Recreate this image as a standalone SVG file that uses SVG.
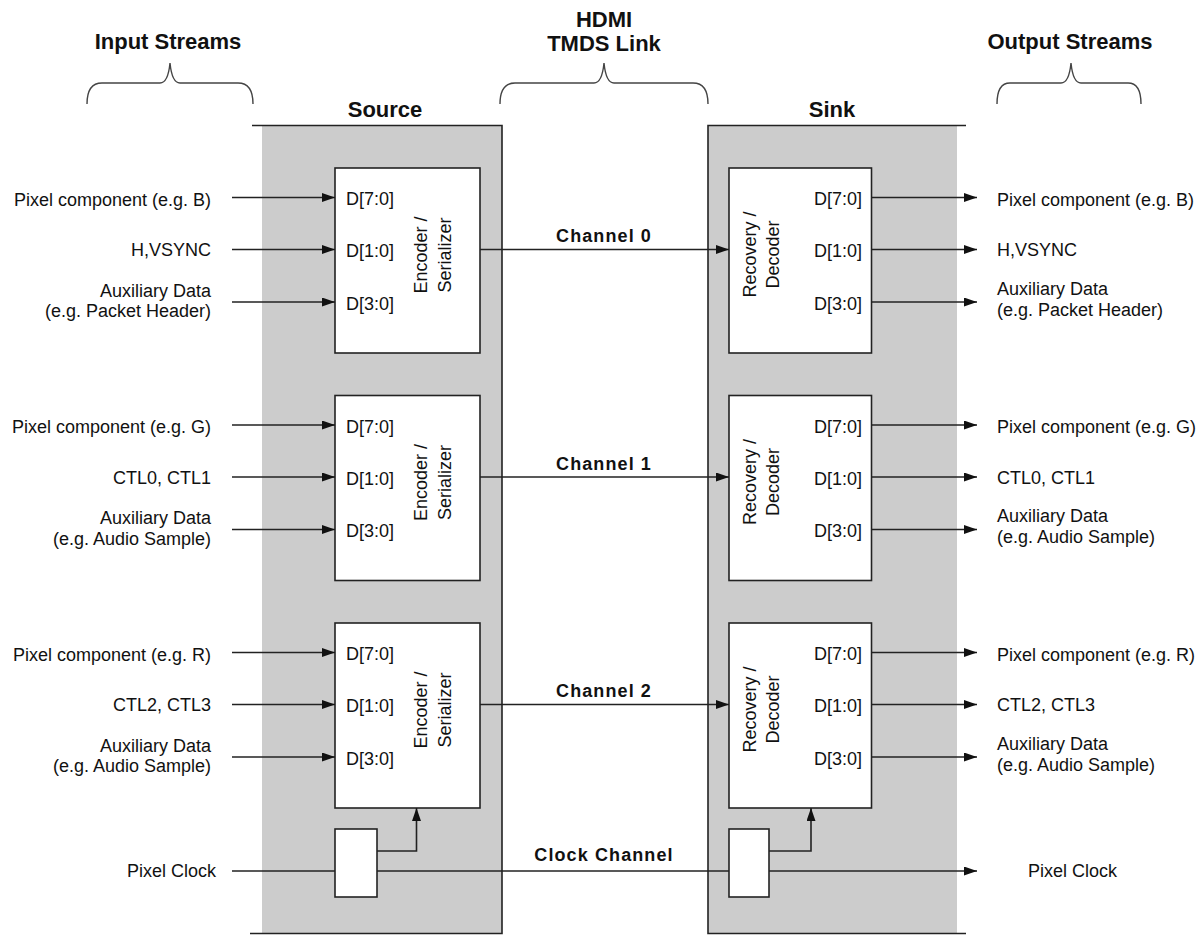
<svg xmlns="http://www.w3.org/2000/svg" width="1199" height="935" viewBox="0 0 1199 935">
<style>
text{font-family:"Liberation Sans",Arial,sans-serif;fill:#111}
.t{font-size:22px;font-weight:bold}
.c{font-size:18px;font-weight:bold;letter-spacing:1.1px;text-anchor:middle}
.l{font-size:18px}
.r{text-anchor:end}
.m{text-anchor:middle}
.box{fill:#fff;stroke:#222;stroke-width:1.6}
.ln{fill:none;stroke:#222;stroke-width:1.6}
.br{fill:none;stroke:#444;stroke-width:1.4}
.panel{fill:#cccccc}
</style>
<defs>
<marker id="ah" markerWidth="13" markerHeight="9" refX="13" refY="4.5" orient="auto" markerUnits="userSpaceOnUse">
<path d="M0,0 L13,4.5 L0,9 z" fill="#111"/>
</marker>
</defs>
<rect width="1199" height="935" fill="#fff"/>

<g id="headers">
<text class="t m" x="168" y="49">Input Streams</text>
<path class="br" d="M87,104 Q87,83 102,83 L160,83 Q168,83 170,63 Q172,83 180,83 L238,83 Q253,83 253,104"/>
<text class="t m" x="604" y="27">HDMI</text>
<text class="t m" x="604" y="51">TMDS Link</text>
<path class="br" d="M500,104 Q500,83 515,83 L594,83 Q602,83 604,63 Q606,83 614,83 L693,83 Q708,83 708,104"/>
<text class="t m" x="1070" y="49">Output Streams</text>
<path class="br" d="M997,104 Q997,83 1010,83 L1061,83 Q1069,83 1071,63 Q1073,83 1081,83 L1128,83 Q1141,83 1141,104"/>
</g>

<g id="source">
<rect class="panel" x="262" y="125.5" width="240" height="808"/>
<path class="ln" d="M252,125.5 H502 V933.5 H250"/>
<text class="t m" x="385" y="117">Source</text>
</g>

<g id="sink">
<rect class="panel" x="708" y="125.5" width="249" height="808"/>
<path class="ln" d="M966,125.5 H708 V933.5 H966"/>
<text class="t m" x="832" y="117">Sink</text>
</g>

<g id="enc0">
<rect class="box" x="335" y="168" width="145" height="185"/>
<text class="l" x="346" y="205">D[7:0]</text>
<text class="l" x="346" y="257">D[1:0]</text>
<text class="l" x="346" y="309.5">D[3:0]</text>
<text class="l m" transform="translate(427,255) rotate(-90)">Encoder /<tspan x="0" y="23.5">Serializer</tspan></text>
</g>
<g id="enc1">
<rect class="box" x="335" y="395.5" width="145" height="185"/>
<text class="l" x="346" y="432.5">D[7:0]</text>
<text class="l" x="346" y="484.5">D[1:0]</text>
<text class="l" x="346" y="537">D[3:0]</text>
<text class="l m" transform="translate(427,482.5) rotate(-90)">Encoder /<tspan x="0" y="23.5">Serializer</tspan></text>
</g>
<g id="enc2">
<rect class="box" x="335" y="623" width="145" height="185"/>
<text class="l" x="346" y="660">D[7:0]</text>
<text class="l" x="346" y="712">D[1:0]</text>
<text class="l" x="346" y="764.5">D[3:0]</text>
<text class="l m" transform="translate(427,710) rotate(-90)">Encoder /<tspan x="0" y="23.5">Serializer</tspan></text>
</g>

<g id="dec0">
<rect class="box" x="729" y="168" width="142.5" height="185"/>
<text class="l r" x="862" y="205">D[7:0]</text>
<text class="l r" x="862" y="257">D[1:0]</text>
<text class="l r" x="862" y="309.5">D[3:0]</text>
<text class="l m" transform="translate(756,254.5) rotate(-90)">Recovery /<tspan x="0" y="23">Decoder</tspan></text>
</g>
<g id="dec1">
<rect class="box" x="729" y="395.5" width="142.5" height="185"/>
<text class="l r" x="862" y="432.5">D[7:0]</text>
<text class="l r" x="862" y="484.5">D[1:0]</text>
<text class="l r" x="862" y="537">D[3:0]</text>
<text class="l m" transform="translate(756,482) rotate(-90)">Recovery /<tspan x="0" y="23">Decoder</tspan></text>
</g>
<g id="dec2">
<rect class="box" x="729" y="623" width="142.5" height="185"/>
<text class="l r" x="862" y="660">D[7:0]</text>
<text class="l r" x="862" y="712">D[1:0]</text>
<text class="l r" x="862" y="764.5">D[3:0]</text>
<text class="l m" transform="translate(756,709.5) rotate(-90)">Recovery /<tspan x="0" y="23">Decoder</tspan></text>
</g>

<g id="clk-src">
<rect class="box" x="335" y="829" width="42" height="68"/>
</g>
<g id="clk-sink">
<rect class="box" x="729" y="829" width="40" height="68"/>
</g>

<g id="inputs">
<text class="l r" x="211" y="205.5">Pixel component (e.g. B)</text>
<text class="l r" x="211" y="256">H,VSYNC</text>
<text class="l r" x="211" y="296.5">Auxiliary Data</text>
<text class="l r" x="211" y="317">(e.g. Packet Header)</text>
<text class="l r" x="211" y="433">Pixel component (e.g. G)</text>
<text class="l r" x="211" y="483.5">CTL0, CTL1</text>
<text class="l r" x="211" y="524">Auxiliary Data</text>
<text class="l r" x="211" y="544.5">(e.g. Audio Sample)</text>
<text class="l r" x="211" y="660.5">Pixel component (e.g. R)</text>
<text class="l r" x="211" y="711">CTL2, CTL3</text>
<text class="l r" x="211" y="751.5">Auxiliary Data</text>
<text class="l r" x="211" y="772">(e.g. Audio Sample)</text>
<text class="l r" x="216" y="877">Pixel Clock</text>
</g>

<g id="outputs">
<text class="l" x="997" y="205.5">Pixel component (e.g. B)</text>
<text class="l" x="997" y="256">H,VSYNC</text>
<text class="l" x="997" y="294.5">Auxiliary Data</text>
<text class="l" x="997" y="315.5">(e.g. Packet Header)</text>
<text class="l" x="997" y="433">Pixel component (e.g. G)</text>
<text class="l" x="997" y="483.5">CTL0, CTL1</text>
<text class="l" x="997" y="522">Auxiliary Data</text>
<text class="l" x="997" y="543">(e.g. Audio Sample)</text>
<text class="l" x="997" y="660.5">Pixel component (e.g. R)</text>
<text class="l" x="997" y="711">CTL2, CTL3</text>
<text class="l" x="997" y="749.5">Auxiliary Data</text>
<text class="l" x="997" y="770.5">(e.g. Audio Sample)</text>
<text class="l" x="1028" y="877">Pixel Clock</text>
</g>

<g id="links">
<text class="c" x="604" y="242">Channel 0</text>
<text class="c" x="604" y="469.5">Channel 1</text>
<text class="c" x="604" y="697">Channel 2</text>
<text class="c" x="604" y="861">Clock Channel</text>
</g>

<g id="connectors">
<path class="ln" marker-end="url(#ah)" d="M232,197.5 H335"/>
<path class="ln" marker-end="url(#ah)" d="M232,249.5 H335"/>
<path class="ln" marker-end="url(#ah)" d="M232,302 H335"/>
<path class="ln" marker-end="url(#ah)" d="M232,425 H335"/>
<path class="ln" marker-end="url(#ah)" d="M232,477 H335"/>
<path class="ln" marker-end="url(#ah)" d="M232,529.5 H335"/>
<path class="ln" marker-end="url(#ah)" d="M232,652.5 H335"/>
<path class="ln" marker-end="url(#ah)" d="M232,704.5 H335"/>
<path class="ln" marker-end="url(#ah)" d="M232,757 H335"/>

<path class="ln" marker-end="url(#ah)" d="M480,249.5 H729"/>
<path class="ln" marker-end="url(#ah)" d="M480,477 H729"/>
<path class="ln" marker-end="url(#ah)" d="M480,704.5 H729"/>

<path class="ln" marker-end="url(#ah)" d="M871.5,197.5 H977"/>
<path class="ln" marker-end="url(#ah)" d="M871.5,249.5 H977"/>
<path class="ln" marker-end="url(#ah)" d="M871.5,302 H977"/>
<path class="ln" marker-end="url(#ah)" d="M871.5,425 H977"/>
<path class="ln" marker-end="url(#ah)" d="M871.5,477 H977"/>
<path class="ln" marker-end="url(#ah)" d="M871.5,529.5 H977"/>
<path class="ln" marker-end="url(#ah)" d="M871.5,652.5 H977"/>
<path class="ln" marker-end="url(#ah)" d="M871.5,704.5 H977"/>
<path class="ln" marker-end="url(#ah)" d="M871.5,757 H977"/>

<path class="ln" d="M232,871 H335"/>
<path class="ln" d="M377,871 H729"/>
<path class="ln" marker-end="url(#ah)" d="M769,871 H977"/>
<path class="ln" marker-end="url(#ah)" d="M377,851 H416.5 V808"/>
<path class="ln" marker-end="url(#ah)" d="M769,851 H811 V808"/>
</g>
</svg>
